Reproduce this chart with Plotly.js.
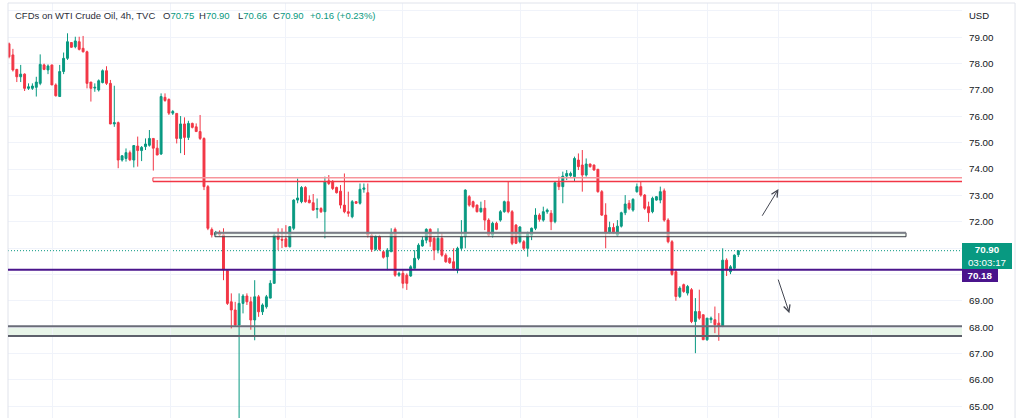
<!DOCTYPE html>
<html>
<head>
<meta charset="utf-8">
<script src="https://cdn.plot.ly/plotly-3.0.1.min.js"></script>
<style>html,body{margin:0;padding:0;background:#fff;}#chart{width:1024px;height:418px;}</style>
</head>
<body>
<div id="chart"></div>
<script>
// ---- data (4h candles) ----
const openP = [78.75,78.33,77.78,77.50,77.60,77.06,77.06,77.10,77.25,77.95,77.76,77.95,77.19,76.75,77.70,78.20,78.80,78.64,78.83,78.58,
78.45,77.30,77.07,77.00,77.28,77.73,77.25,75.71,75.76,74.34,74.40,74.62,74.34,74.87,74.70,74.85,74.90,75.16,74.79,74.57,
76.72,76.64,76.12,76.11,75.16,75.71,75.20,75.73,75.60,75.42,75.16,73.33,71.70,71.50,71.60,71.50,70.14,68.96,68.65,68.08,
68.90,69.18,68.96,68.27,69.15,68.58,68.77,69.10,69.66,71.49,71.33,71.35,71.05,71.75,72.82,72.76,73.30,72.82,72.72,72.47,
72.50,72.38,73.55,73.52,73.30,73.16,72.63,72.38,72.19,72.76,72.70,73.23,73.10,71.49,70.95,71.45,70.86,70.67,70.86,71.71,
69.97,70.04,69.97,69.94,70.23,70.61,71.08,71.30,71.71,71.37,70.92,71.37,70.73,70.61,70.48,70.16,70.99,71.43,72.95,72.76,
72.63,72.38,72.51,72.06,71.49,71.94,72.06,72.38,72.76,72.38,71.87,71.24,71.24,70.99,71.49,71.75,72.25,72.06,72.38,72.32,
72.00,73.48,73.33,73.73,73.75,73.71,74.34,74.15,73.77,74.19,74.15,73.99,73.14,72.25,71.58,71.78,71.49,71.83,72.34,72.70,
72.44,73.14,73.33,73.01,72.57,72.38,72.82,72.82,73.17,72.06,71.24,70.10,69.16,69.61,69.29,69.42,68.21,68.59,68.47,67.52,
68.28,68.28,68.15,68.03,70.54,70.10,70.23,70.75];
const highP = [78.80,78.56,77.80,77.95,77.63,77.25,77.25,77.50,78.35,78.00,77.97,77.95,77.25,77.95,78.42,79.15,78.82,79.02,79.02,79.05,
78.49,77.30,77.25,77.40,77.78,77.90,77.38,77.16,75.80,74.53,74.78,74.70,74.91,75.23,74.87,75.16,75.48,75.16,75.10,76.87,
76.87,76.68,76.24,76.11,76.01,75.96,75.83,75.76,75.73,76.05,75.20,73.39,71.78,71.65,71.67,71.75,70.17,69.28,68.96,69.28,
69.25,69.28,69.15,69.78,69.22,68.90,69.22,69.78,71.56,71.75,71.75,71.87,71.83,72.85,73.64,73.35,73.35,73.00,73.05,72.88,
72.55,73.71,73.77,73.58,73.33,73.39,73.83,73.14,72.82,72.78,73.45,73.45,73.45,71.55,71.50,71.50,70.90,71.00,71.75,71.78,
70.10,70.16,70.04,70.35,70.92,71.18,71.43,71.75,71.75,71.43,71.75,71.56,70.80,70.65,70.99,71.05,72.06,73.23,73.01,72.80,
72.65,72.76,72.82,72.13,72.00,72.00,72.44,72.80,73.52,72.44,71.91,71.83,71.30,71.62,71.78,72.51,72.32,72.57,72.50,72.44,
73.52,73.71,73.90,73.96,73.90,74.47,74.59,74.72,74.40,74.20,74.17,73.99,73.20,72.70,72.00,71.94,72.06,72.38,73.01,72.82,
72.89,73.45,73.52,73.05,72.76,72.95,72.97,73.33,73.26,72.13,71.30,70.20,69.55,69.65,69.60,69.48,69.10,69.42,68.47,68.34,
68.40,68.78,68.53,70.99,70.61,70.35,70.76,70.90];
const lowP = [78.20,77.70,77.30,77.30,76.96,77.00,77.00,76.75,77.18,77.75,77.60,77.19,76.75,76.75,77.60,78.14,78.60,78.58,78.50,78.42,
77.06,76.56,76.93,76.94,77.25,77.19,75.70,75.60,74.03,74.28,74.28,74.30,74.06,74.09,74.30,74.72,74.85,73.94,74.53,74.53,
76.55,76.05,76.05,74.97,74.60,74.53,75.10,75.54,75.42,75.10,73.20,71.68,71.40,71.48,71.45,69.78,68.84,67.95,68.01,64.30,
68.52,68.84,67.90,67.50,68.39,68.46,68.70,69.09,69.66,70.92,71.00,71.05,71.02,71.68,72.70,72.70,72.72,72.70,72.42,72.13,
72.33,71.37,73.39,73.20,73.07,72.50,72.32,72.19,72.13,72.68,72.65,73.10,71.40,70.85,70.90,70.90,70.60,70.16,70.86,69.91,
69.91,69.47,69.41,69.91,70.23,70.54,71.05,71.18,71.05,70.54,70.80,70.67,70.44,70.40,70.16,70.04,70.92,70.99,72.57,72.51,
72.35,72.34,71.68,71.43,71.40,71.68,72.00,72.34,72.32,71.11,71.15,71.18,70.92,70.67,71.30,71.68,72.00,72.00,72.30,71.68,
71.94,73.20,72.70,73.58,73.70,73.52,73.96,73.14,73.71,74.05,73.94,73.10,72.22,70.99,71.53,71.53,71.43,71.78,72.25,72.44,
72.38,73.10,72.95,72.45,71.99,72.32,72.80,72.70,72.00,71.18,69.95,69.00,69.10,69.30,69.20,68.15,67.01,68.28,67.52,67.48,
68.15,67.77,67.48,68.00,69.94,70.01,70.16,70.66];
const closeP = [78.26,77.76,77.50,77.60,77.06,77.12,77.15,77.30,77.97,77.78,77.91,77.19,76.78,77.70,78.20,78.83,78.62,78.86,78.54,78.45,
77.25,77.06,77.10,77.35,77.73,77.25,75.71,75.76,74.34,74.50,74.62,74.35,74.89,74.70,74.82,74.95,75.16,74.79,74.53,76.75,
76.60,76.12,76.18,75.16,75.71,75.20,75.73,75.58,75.42,75.16,73.33,71.75,71.50,71.60,71.50,70.17,68.90,68.65,68.08,68.90,
69.18,68.96,68.27,69.15,68.58,68.84,69.15,69.66,71.49,71.33,71.30,71.05,71.81,72.82,72.90,73.30,72.76,72.72,72.44,72.50,
72.38,73.52,73.45,73.26,73.10,72.63,72.38,72.32,72.76,72.70,73.23,73.28,71.49,70.95,71.45,70.95,70.65,70.92,71.56,69.97,
70.04,69.66,69.66,70.29,70.61,71.11,71.30,71.71,71.24,70.92,71.37,70.73,70.48,70.44,70.23,70.99,71.43,73.20,72.63,72.57,
72.38,72.51,72.06,71.49,71.94,71.71,72.38,72.76,72.38,71.18,71.18,71.80,70.99,71.56,71.75,72.25,72.09,72.38,72.44,72.00,
73.48,73.33,73.73,73.83,73.83,74.40,74.09,73.77,74.19,74.09,73.96,73.14,72.25,71.56,71.78,71.58,71.83,72.34,72.67,72.51,
72.85,73.33,73.01,72.51,72.34,72.89,72.95,73.14,72.06,71.24,70.00,69.16,69.48,69.35,69.54,68.21,68.59,68.34,67.52,68.34,
68.34,68.09,68.03,70.54,70.16,70.29,70.73,70.90];

// day separators (candle index units) for vertical grid
const dayBreaks = [11.1, 41.3, 70.8, 100.9, 131.2, 161.1, 179.1, 197.4, 221.2];
// price axis ticks
const priceTicks = [65,66,67,68,69,70,71,72,73,74,75,76,77,78,79,80];
const priceTickText = ['65.00','66.00','67.00','68.00','69.00','','','72.00','73.00','74.00','75.00','76.00','77.00','78.00','79.00',''];
// drawn levels / zones
const redZone = [73.53, 73.67];
const blackZone = [71.43, 71.58];
const greenZone = [67.66, 68.03];
const purpleLevel = 70.18;
const lastPrice = 70.90;
const header = {name:'CFDs on WTI Crude Oil, 4h, TVC', O:'70.75', H:'70.90', L:'70.66', C:'70.90', chg:'+0.16 (+0.23%)'};

const xIdx = closeP.map((_, i) => i);
const UP = '#089981', DOWN = '#f23645';

const trace = {
  type: 'candlestick', x: xIdx, open: openP, high: highP, low: lowP, close: closeP,
  increasing: {line: {color: UP, width: 1}, fillcolor: UP},
  decreasing: {line: {color: DOWN, width: 1}, fillcolor: DOWN},
  whiskerwidth: 0, hoverinfo: 'skip'
};

const FONT = 'Liberation Sans, Arial, sans-serif';
const X0 = -0.256, X1 = 244.36;
const px = p => (p - 8) / 954;  // pixel -> paper x
const hdr = (x, text, color) => ({xref: 'paper', yref: 'paper', x: px(x), y: 0.9705, xanchor: 'left', yanchor: 'middle',
  showarrow: false, text: text, font: {family: FONT, size: 9.5, color: color || '#2a2e39'}});

const layout = {
  width: 1024, height: 418,
  margin: {l: 8, r: 62, t: 3, b: 0},
  paper_bgcolor: '#ffffff', plot_bgcolor: '#ffffff',
  showlegend: false,
  font: {family: FONT, size: 9.6, color: '#131722'},
  xaxis: {range: [X0, X1], tickmode: 'array', tickvals: dayBreaks, showticklabels: false, ticks: '',
          showgrid: true, gridcolor: '#f0f3fa', gridwidth: 1, zeroline: false, showline: false,
          rangeslider: {visible: false}, fixedrange: true, automargin: false},
  yaxis: {range: [64.55, 80.30], side: 'right', tickmode: 'array', tickvals: priceTicks, ticktext: priceTickText,
          ticks: '', ticklabelstandoff: 6, showgrid: true, gridcolor: '#f0f3fa', gridwidth: 1, zeroline: false,
          showline: false, fixedrange: true, automargin: false,
          tickfont: {family: FONT, size: 9.8, color: '#131722'}},
  shapes: [
    // panel border
    {type: 'line', xref: 'paper', yref: 'paper', x0: 0, x1: 0, y0: 0, y1: 1, line: {color: '#e0e3eb', width: 1}},
    {type: 'line', xref: 'paper', yref: 'paper', x0: 0, x1: 1.0556, y0: 1, y1: 1, line: {color: '#e0e3eb', width: 1}},
    {type: 'line', xref: 'paper', yref: 'paper', x0: 1.0556, x1: 1.0556, y0: 0, y1: 1, line: {color: '#e0e3eb', width: 1}},
    // green support zone
    {type: 'rect', xref: 'paper', yref: 'y', x0: 0, x1: 1, y0: greenZone[0], y1: greenZone[1], layer: 'between',
     fillcolor: '#e8f5e9', line: {width: 0}},
    {type: 'line', xref: 'paper', yref: 'y', x0: 0, x1: 1, y0: greenZone[1], y1: greenZone[1], layer: 'above', line: {color: '#6a6d78', width: 2}},
    {type: 'line', xref: 'paper', yref: 'y', x0: 0, x1: 1, y0: greenZone[0], y1: greenZone[0], layer: 'above', line: {color: '#5d606b', width: 2}},
    // black box zone
    {type: 'rect', xref: 'x', yref: 'y', x0: 52.8, x1: 230, y0: blackZone[0], y1: blackZone[1], layer: 'above',
     fillcolor: 'rgba(232,245,233,0.6)', line: {color: '#3a3c44', width: 1}},
    {type: 'line', xref: 'x', yref: 'y', x0: 52.8, x1: 230, y0: blackZone[1], y1: blackZone[1], layer: 'above',
     line: {color: '#7b7e87', width: 2}},
    // red resistance zone
    {type: 'line', xref: 'x', yref: 'y', x0: 36.9, x1: X1, y0: redZone[1], y1: redZone[1], layer: 'above',
     line: {color: '#f7959c', width: 1.5}},
    {type: 'line', xref: 'x', yref: 'y', x0: 36.9, x1: X1, y0: redZone[0], y1: redZone[0], layer: 'above',
     line: {color: '#f23645', width: 1.5}},
    {type: 'line', xref: 'x', yref: 'y', x0: 36.9, x1: 36.9, y0: redZone[0], y1: redZone[1], layer: 'above',
     line: {color: '#f23645', width: 1}},
    // purple level
    {type: 'line', xref: 'paper', yref: 'y', x0: 0, x1: 1, y0: purpleLevel, y1: purpleLevel, layer: 'above', line: {color: '#4a148c', width: 2}},
    // last price dotted
    {type: 'line', xref: 'paper', yref: 'y', x0: 0, x1: 1, y0: lastPrice, y1: lastPrice, layer: 'between', line: {color: UP, width: 1, dash: '1px,2px'}}
  ],
  annotations: [
    hdr(13, header.name),
    hdr(161, 'O<span style="color:' + UP + '">' + header.O + '</span>'),
    hdr(197, 'H<span style="color:' + UP + '">' + header.H + '</span>'),
    hdr(236, 'L<span style="color:' + UP + '">' + header.L + '</span>'),
    hdr(271, 'C<span style="color:' + UP + '">' + header.C + '</span>'),
    hdr(308, header.chg, UP),
    hdr(967, 'USD', '#131722'),
    // price labels on the axis
    {xref: 'paper', yref: 'y', x: 1, y: 70.70, xanchor: 'left', yanchor: 'middle', showarrow: false,
     text: '<b>' + lastPrice.toFixed(2) + '</b><br>03:03:17', align: 'center', bgcolor: UP, borderpad: 1, borderwidth: 0,
     width: 48, height: 24, font: {family: FONT, size: 9.8, color: '#ffffff'}},
    {xref: 'paper', yref: 'y', x: 1, y: 69.94, xanchor: 'left', yanchor: 'middle', showarrow: false,
     text: '<b>' + purpleLevel.toFixed(2) + '</b>', align: 'center', bgcolor: '#4a148c', borderpad: 1, borderwidth: 0,
     width: 34, height: 11, font: {family: FONT, size: 9.8, color: '#ffffff'}},
    // scenario arrows
    {xref: 'x', yref: 'y', axref: 'x', ayref: 'y', x: 197.3, y: 73.24, ax: 192.9, ay: 72.17, showarrow: true,
     arrowhead: 5, arrowsize: 1.3, arrowwidth: 1, arrowcolor: '#434651', text: ''},
    {xref: 'x', yref: 'y', axref: 'x', ayref: 'y', x: 200.1, y: 68.53, ax: 197.1, ay: 69.86, showarrow: true,
     arrowhead: 5, arrowsize: 1.3, arrowwidth: 1, arrowcolor: '#434651', text: ''}
  ]
};

Plotly.newPlot('chart', [trace], layout, {staticPlot: true, displayModeBar: false});
</script>
</body>
</html>
